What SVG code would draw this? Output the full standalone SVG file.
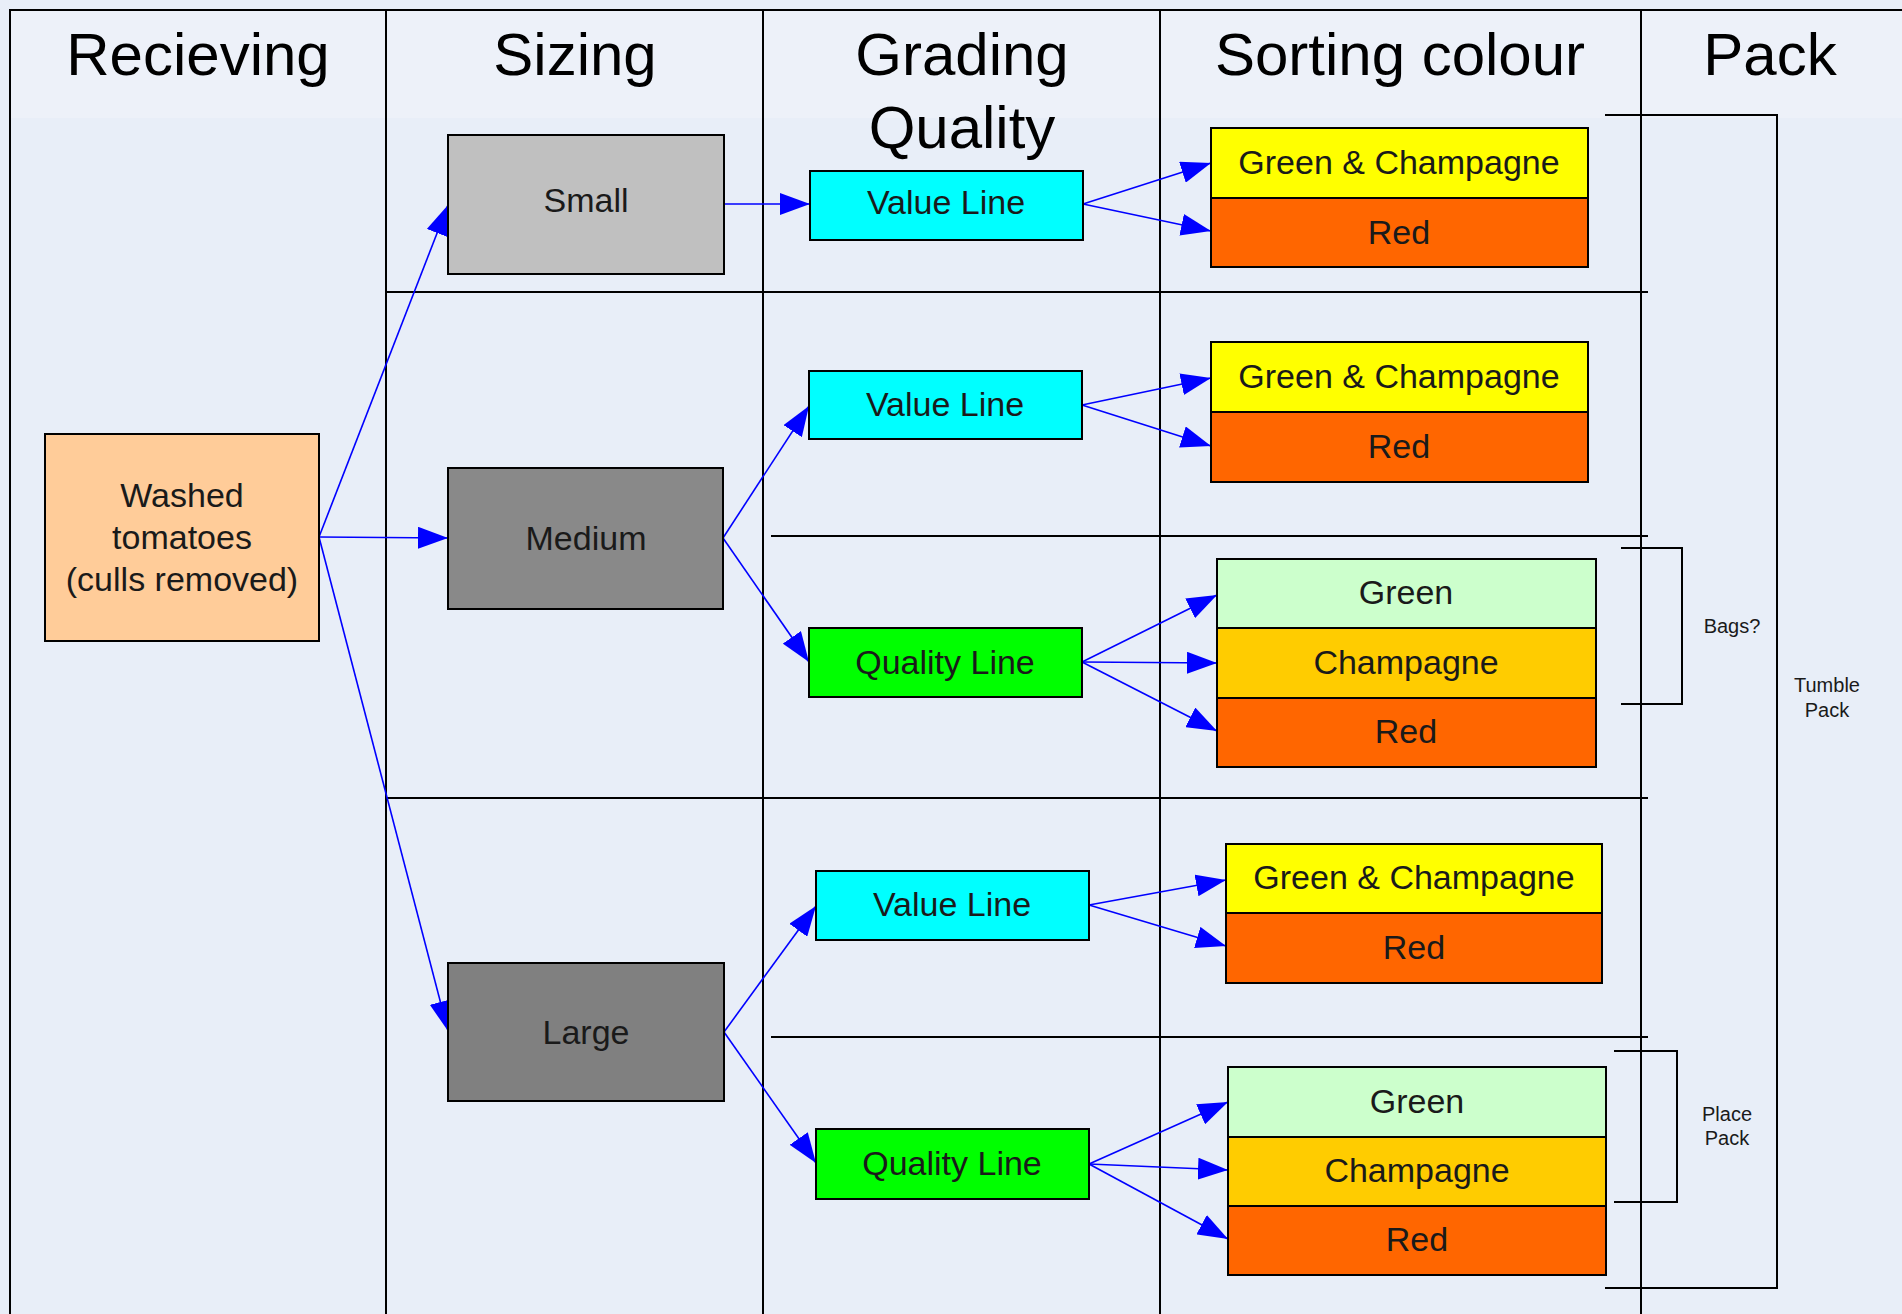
<svg xmlns="http://www.w3.org/2000/svg" width="1902" height="1314" viewBox="0 0 1902 1314">
<style>
text{font-family:"Liberation Sans",Arial,sans-serif;fill:#1a1a1a;text-anchor:middle}
.h{font-size:60px;fill:#000}
.n{font-size:34px}
.s{font-size:20px}
.box{stroke:#000;stroke-width:2}
.grid{stroke:#000;stroke-width:2;fill:none}
.c{stroke:#0000FF;stroke-width:1.6;fill:none;marker-end:url(#ah)}
</style>
<defs>
<marker id="ah" markerUnits="userSpaceOnUse" markerWidth="30" markerHeight="22" refX="30" refY="11" orient="auto">
<path d="M0,0 L30,11 L0,22 Z" fill="#0000FF"/>
</marker>
</defs>
<rect x="0" y="0" width="1902" height="1314" fill="#E8EEF8"/>
<rect x="10" y="10" width="1892" height="108" fill="#EDF1F9"/>
<g id="grid">
<path class="grid" d="M10,1314 V10 H1902"/>
<path class="grid" d="M386,10 V1314 M763,10 V1314 M1160,10 V1314 M1641,10 V1314"/>
<path class="grid" d="M386,292 H1648 M771,536 H1648 M386,798 H1648 M771,1037 H1648"/>
<path class="grid" d="M1605,115 H1777 V1288 H1605"/>
<path class="grid" d="M1621,548 H1682 V704 H1621"/>
<path class="grid" d="M1614,1051 H1677 V1202 H1614"/>
</g>
<g id="headers">
<text class="h" x="198" y="75">Recieving</text>
<text class="h" x="575" y="75">Sizing</text>
<text class="h" x="962" y="75">Grading</text>
<text class="h" x="962" y="148">Quality</text>
<text class="h" x="1400" y="75">Sorting colour</text>
<text class="h" x="1770" y="75">Pack</text>
</g>
<g id="pack-labels">
<text class="s" x="1732" y="633">Bags?</text>
<text class="s" x="1827" y="692">Tumble</text>
<text class="s" x="1827" y="717">Pack</text>
<text class="s" x="1727" y="1121">Place</text>
<text class="s" x="1727" y="1145">Pack</text>
</g>
<g id="connectors">
<path class="c" d="M319,537 L448,205"/>
<path class="c" d="M319,537 L448,538"/>
<path class="c" d="M319,537 L448,1031"/>
<path class="c" d="M724,204 L810,204"/>
<path class="c" d="M723,538 L809,406"/>
<path class="c" d="M723,538 L809,662"/>
<path class="c" d="M724,1032 L816,906"/>
<path class="c" d="M724,1032 L816,1163"/>
<path class="c" d="M1083,204 L1211,163"/>
<path class="c" d="M1083,204 L1211,231"/>
<path class="c" d="M1082,405 L1211,378"/>
<path class="c" d="M1082,405 L1211,446"/>
<path class="c" d="M1082,662 L1217,595"/>
<path class="c" d="M1082,662 L1217,663"/>
<path class="c" d="M1082,662 L1217,731"/>
<path class="c" d="M1089,905 L1226,880"/>
<path class="c" d="M1089,905 L1226,946"/>
<path class="c" d="M1089,1164 L1228,1102"/>
<path class="c" d="M1089,1164 L1228,1170"/>
<path class="c" d="M1089,1164 L1228,1239"/>
</g>
<g id="washed">
<rect class="box" x="45" y="434" width="274" height="207" fill="#FFCC99"/>
<text class="n" x="182" y="507">Washed</text>
<text class="n" x="182" y="549">tomatoes</text>
<text class="n" x="182" y="591">(culls removed)</text>
</g>
<g id="small">
<rect class="box" x="448" y="135" width="276" height="139" fill="#C0C0C0"/>
<text class="n" x="586" y="212">Small</text>
</g>
<g id="medium">
<rect class="box" x="448" y="468" width="275" height="141" fill="#898989"/>
<text class="n" x="586" y="550">Medium</text>
</g>
<g id="large">
<rect class="box" x="448" y="963" width="276" height="138" fill="#808080"/>
<text class="n" x="586" y="1044">Large</text>
</g>
<g id="value1">
<rect class="box" x="810" y="171" width="273" height="69" fill="#00FFFF"/>
<text class="n" x="946" y="214">Value Line</text>
</g>
<g id="value2">
<rect class="box" x="809" y="371" width="273" height="68" fill="#00FFFF"/>
<text class="n" x="945" y="416">Value Line</text>
</g>
<g id="quality1">
<rect class="box" x="809" y="628" width="273" height="69" fill="#00FF00"/>
<text class="n" x="945" y="674">Quality Line</text>
</g>
<g id="value3">
<rect class="box" x="816" y="871" width="273" height="69" fill="#00FFFF"/>
<text class="n" x="952" y="916">Value Line</text>
</g>
<g id="quality2">
<rect class="box" x="816" y="1129" width="273" height="70" fill="#00FF00"/>
<text class="n" x="952" y="1175">Quality Line</text>
</g>
<g id="sort1">
<rect class="box" x="1211" y="128" width="377" height="70" fill="#FFFF00"/>
<text class="n" x="1399" y="174">Green &amp; Champagne</text>
<rect class="box" x="1211" y="198" width="377" height="69" fill="#FF6600"/>
<text class="n" x="1399" y="244">Red</text>
</g>
<g id="sort2">
<rect class="box" x="1211" y="342" width="377" height="70" fill="#FFFF00"/>
<text class="n" x="1399" y="388">Green &amp; Champagne</text>
<rect class="box" x="1211" y="412" width="377" height="70" fill="#FF6600"/>
<text class="n" x="1399" y="458">Red</text>
</g>
<g id="sort3">
<rect class="box" x="1217" y="559" width="379" height="69" fill="#CCFFCC"/>
<text class="n" x="1406" y="604">Green</text>
<rect class="box" x="1217" y="628" width="379" height="70" fill="#FFCC00"/>
<text class="n" x="1406" y="674">Champagne</text>
<rect class="box" x="1217" y="698" width="379" height="69" fill="#FF6600"/>
<text class="n" x="1406" y="743">Red</text>
</g>
<g id="sort4">
<rect class="box" x="1226" y="844" width="376" height="69" fill="#FFFF00"/>
<text class="n" x="1414" y="889">Green &amp; Champagne</text>
<rect class="box" x="1226" y="913" width="376" height="70" fill="#FF6600"/>
<text class="n" x="1414" y="959">Red</text>
</g>
<g id="sort5">
<rect class="box" x="1228" y="1067" width="378" height="70" fill="#CCFFCC"/>
<text class="n" x="1417" y="1113">Green</text>
<rect class="box" x="1228" y="1137" width="378" height="69" fill="#FFCC00"/>
<text class="n" x="1417" y="1182">Champagne</text>
<rect class="box" x="1228" y="1206" width="378" height="69" fill="#FF6600"/>
<text class="n" x="1417" y="1251">Red</text>
</g>
</svg>
